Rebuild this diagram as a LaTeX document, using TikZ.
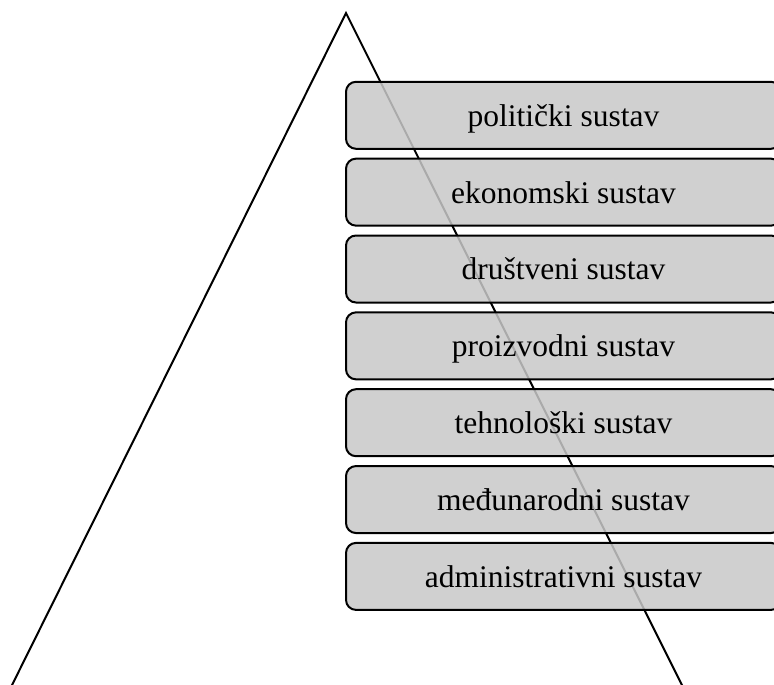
\documentclass[tikz,border=0pt]{standalone}
\usepackage{fontspec}
\setmainfont{Liberation Serif}

\tikzset{
	sysbox/.style={draw=black, line width=2pt, rounded corners=10pt,
		fill={rgb,255:red,200;green,200;blue,200}, fill opacity=0.85, text opacity=1,
		minimum width=435pt, minimum height=67pt, inner sep=0pt, text depth=0pt,
		font=\fontsize{31.5}{36}\selectfont}
}

\begin{document}
\begin{tikzpicture}[x=1pt,y=-1pt]
	\def\boxx{563.5}
	\def\boxy{115.3}
	\def\pitch{76.85}

	\useasboundingbox (0,0) rectangle (774,685);

	% triangle, base just below the page edge
	\coordinate (apex) at (346,13);
	\coordinate (left) at (11.2,686.7);
	\coordinate (right) at (682.8,686.7);
	\draw [line width=2pt, line join=miter] (left) -- (apex) -- (right) -- cycle;

	% systems
	\node [sysbox] (pol) at (\boxx,\boxy) {politički sustav};
	\node [sysbox] (eko) at (\boxx,\boxy+\pitch) {ekonomski sustav};
	\node [sysbox] (dru) at (\boxx,\boxy+2*\pitch) {društveni sustav};
	\node [sysbox] (pro) at (\boxx,\boxy+3*\pitch) {proizvodni sustav};
	\node [sysbox] (teh) at (\boxx,\boxy+4*\pitch) {tehnološki sustav};
	\node [sysbox] (med) at (\boxx,\boxy+5*\pitch) {međunarodni sustav};
	\node [sysbox] (adm) at (\boxx,\boxy+6*\pitch) {administrativni sustav};
\end{tikzpicture}
\end{document}
